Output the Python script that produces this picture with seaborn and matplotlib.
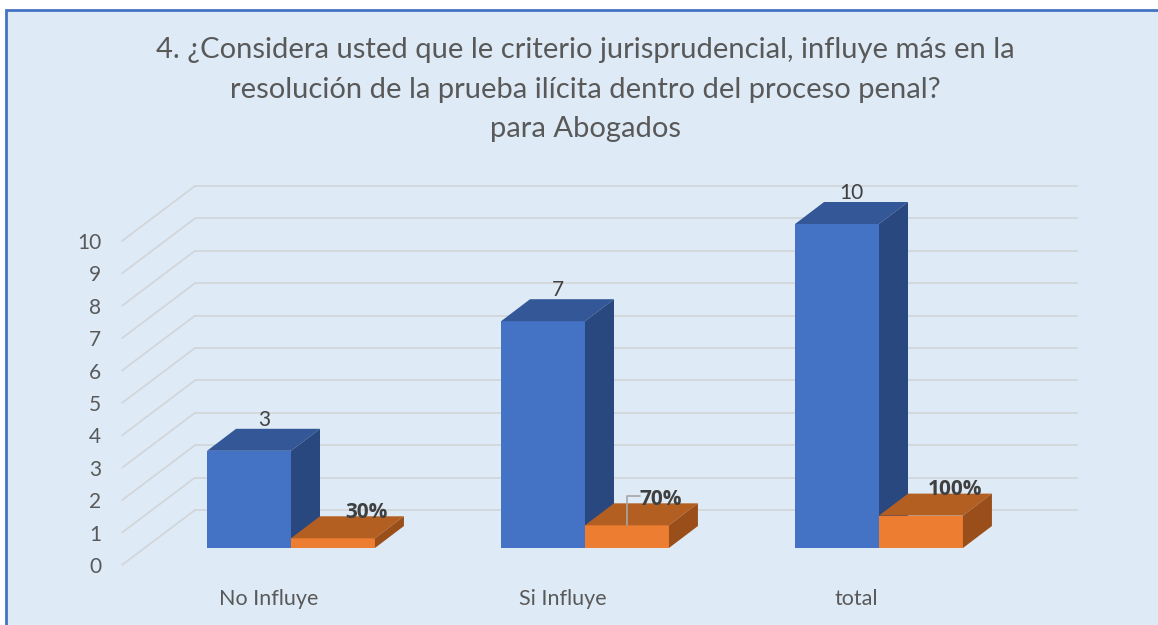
import numpy as np
import pandas as pd
import seaborn as sns
import matplotlib.pyplot as plt
from matplotlib.patches import Polygon, Rectangle

# 1. DATA
categorias = ['No Influye', 'Si Influye', 'total']
frecuencia = [3, 7, 10]
porcentaje = [0.3, 0.7, 1.0]
etiquetas_pct = ['30%', '70%', '100%']
ticks_y = list(range(0, 11))
titulo = ['4. ¿Considera usted que le criterio jurisprudencial, influye más en la',
          'resolución de la prueba ilícita dentro del proceso penal?',
          'para Abogados']

df = pd.DataFrame({
    'Categoria': categorias * 2,
    'Valor': frecuencia + porcentaje,
    'Serie': ['Frecuencia'] * 3 + ['Porcentaje'] * 3,
})

# 2. STYLING
sns.set_style('white')
plt.rcParams['font.family'] = ['Lato', 'DejaVu Sans']
BG = '#DEEBF7'
TXT = '#595959'
LBL = '#404040'
GRID = '#D2D6DA'
azul = {'front': '#4472C4', 'top': '#335797', 'side': '#2A4880'}
naranja = {'front': '#ED7D31', 'top': '#B45F22', 'side': '#9A4F1B'}

W, H = 1158, 625
fig = plt.figure(figsize=(W / 100, H / 100), dpi=100)
fig.patch.set_facecolor('white')
fig.add_artist(Rectangle((6 / W, -0.1), 1.2, 1.1 - 9.5 / H, transform=fig.transFigure,
                         facecolor=BG, edgecolor='#4472C4', linewidth=2, zorder=0))

# axes placed so that 1 category = 294 px, 1 unit = 32.4 px, bar base at y=548 px
PX_X, PX_Y = 294, 32.4
ax = fig.add_axes([115 / W, 40 / H, 985 / W, 415 / H])
ax.set_facecolor('none')

# 3. BARS (front faces)
sns.barplot(data=df, x='Categoria', y='Valor', hue='Serie', order=categorias,
            palette=[azul['front'], naranja['front']], saturation=1, width=0.571,
            gap=0, linewidth=0, legend=False, ax=ax, zorder=2)

ax.set_xlim((115 - 291) / PX_X, (1100 - 291) / PX_X)
ax.set_ylim((548 - 585) / PX_Y, (548 - 170) / PX_Y)

# 3D depth of the bars and of the back wall
DX, DY = 29 / PX_X, 22 / PX_Y
tick_off = -17 / PX_Y          # front edge of floor, where tick labels sit
wall_off = 38 / PX_Y           # back wall
x_front, x_wall, x_end = (122 - 291) / PX_X, (195 - 291) / PX_X, (1077 - 291) / PX_X

for v in ticks_y:
    ax.plot([x_wall, x_end], [v + wall_off] * 2, color=GRID, lw=1.3, zorder=1)
    ax.plot([x_front, x_wall], [v + tick_off, v + wall_off], color=GRID, lw=1.3, zorder=1)

for cont, cols, z in zip(ax.containers, [azul, naranja], [2, 3]):
    for bar in cont:
        x0, w, h = bar.get_x(), bar.get_width(), bar.get_height()
        x1 = x0 + w
        bar.set_zorder(z)
        ax.add_patch(Polygon([(x0, h), (x1, h), (x1 + DX, h + DY), (x0 + DX, h + DY)],
                             closed=True, facecolor=cols['top'], lw=0, zorder=z))
        ax.add_patch(Polygon([(x1, 0), (x1, h), (x1 + DX, h + DY), (x1 + DX, DY)],
                             closed=True, facecolor=cols['side'], lw=0, zorder=z))

# 4. DATA LABELS
for bar, v in zip(ax.containers[0], frecuencia):
    cx = bar.get_x() + bar.get_width() / 2
    ax.text(cx + 0.05, v + 0.95, str(v), ha='center', va='center',
            fontsize=15, color=LBL, zorder=5)

for i, (bar, v, s) in enumerate(zip(ax.containers[1], porcentaje, etiquetas_pct)):
    cx = bar.get_x() + bar.get_width() / 2
    ax.text(cx + 0.115, v + 0.8, s, ha='center', va='center', family=['Open Sans', 'DejaVu Sans'],
            fontsize=15, fontweight='bold', color=LBL, zorder=5)
    if i == 1:
        ax.plot([cx, cx, cx + 0.045], [v, v + 0.9, v + 0.9], color='#A6A6A6', lw=1.2, zorder=4)

# 5. AXES TEXT
ax.set_yticks(np.array(ticks_y) + tick_off, labels=[str(t) for t in ticks_y])
ax.set_xticks(np.arange(len(categorias)) - 22.6 / PX_X, labels=categorias)
ax.tick_params(axis='y', length=0, pad=10, labelsize=15, labelcolor=TXT)
ax.tick_params(axis='x', length=0, pad=3, labelsize=15.5, labelcolor=TXT)
ax.set_xlabel('')
ax.set_ylabel('')
sns.despine(ax=ax, left=True, bottom=True)

for linea, yp in zip(titulo, [50, 90, 129]):
    fig.text(585 / W, 1 - yp / H, linea, ha='center', va='center', fontsize=21, color=TXT)

fig.savefig('out.png', dpi=100, facecolor=fig.get_facecolor())
